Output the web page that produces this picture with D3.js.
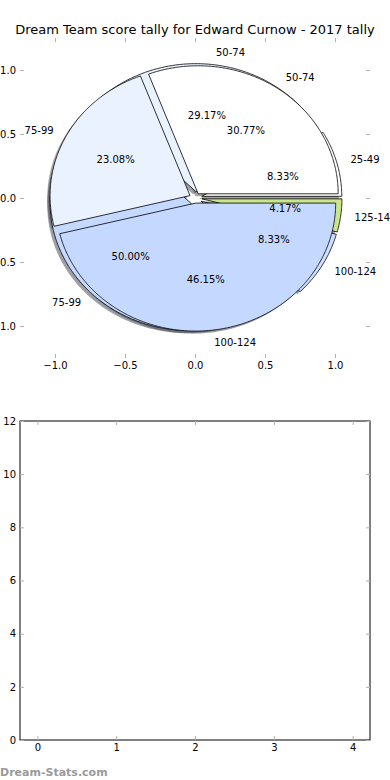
<!DOCTYPE html>
<html>
<head>
<meta charset="utf-8">
<script src="https://cdn.jsdelivr.net/npm/d3@7"></script>
<style>
  body { margin: 0; background: #fff; }
  svg { display: block; font-family: "DejaVu Sans", sans-serif; }
</style>
</head>
<body>
<div id="chart"></div>
<script>
// score bands, two tallies drawn on the same axes
const labelsA = ["50-74", "75-99", "100-124"];
const countsA = [4, 3, 6];
const labelsB = ["25-49", "50-74", "75-99", "100-124", "125-149"];
const countsB = [2, 7, 12, 2, 1];
const palette = ["#ffffff", "#eaf1ff", "#c5d8ff", "#cddfff", "#c9e68c"];

const pieTicks = [-1.0, -0.5, 0.0, 0.5, 1.0];
const barXTicks = [0, 1, 2, 3, 4];
const barYTicks = [0, 2, 4, 6, 8, 10, 12];

const W = 390, H = 780;
const svg = d3.select("#chart").append("svg")
  .attr("width", W)
  .attr("height", H);

// --------- top axes (pie) ---------
const x1 = d3.scaleLinear().domain([-1.25, 1.25]).range([20, 370]);
const y1 = d3.scaleLinear().domain([-1.25, 1.25]).range([358, 38]);

svg.append("text")
  .attr("x", 195)
  .attr("y", 34)
  .attr("text-anchor", "middle")
  .attr("font-size", 13)
  .text("Dream Team score tally for Edward Curnow - 2017 tally");

const fmt1 = d3.format(".1f");
function tickAxes(g, x, y, xt, yt, xf, yf) {
  const [xl, xr] = x.range();
  const [yb, ytp] = y.range();
  g.append("g").attr("transform", `translate(0,${yb})`)
    .call(d3.axisBottom(x).tickValues(xt).tickSizeInner(-4).tickSizeOuter(0).tickPadding(4).tickFormat(xf));
  g.append("g").attr("transform", `translate(0,${ytp})`)
    .call(d3.axisTop(x).tickValues(xt).tickSizeInner(-4).tickSizeOuter(0).tickFormat(""));
  g.append("g").attr("transform", `translate(${xl},0)`)
    .call(d3.axisLeft(y).tickValues(yt).tickSizeInner(-4).tickSizeOuter(0).tickPadding(4).tickFormat(yf));
  g.append("g").attr("transform", `translate(${xr},0)`)
    .call(d3.axisRight(y).tickValues(yt).tickSizeInner(-4).tickSizeOuter(0).tickFormat(""));
  g.selectAll(".domain").remove();
  g.selectAll(".tick line").attr("stroke", "#b0b0b0").attr("stroke-width", 1);
  g.selectAll(".tick text").attr("font-size", 10).attr("fill", "#000")
    .attr("font-family", "DejaVu Sans, sans-serif");
}

const pieAxes = svg.append("g");
tickAxes(pieAxes, x1, y1, pieTicks, pieTicks, fmt1, fmt1);

function layoutPie(counts, labels, explode) {
  const total = d3.sum(counts);
  const arcs = d3.pie().sort(null).startAngle(0).endAngle(2 * Math.PI)(counts);
  return arcs.map((a, i) => {
    const mid = (a.startAngle + a.endAngle) / 2;
    return {
      a0: a.startAngle, a1: a.endAngle, mid,
      cx: explode * Math.cos(mid), cy: explode * Math.sin(mid),
      label: labels[i],
      pct: d3.format(".2f")(counts[i] / total * 100) + "%",
      color: palette[i]
    };
  });
}

function wedgePath(cx, cy, r, a0, a1) {
  const p = d3.path();
  p.moveTo(x1(cx), y1(cy));
  const n = Math.max(2, Math.ceil((a1 - a0) / 0.01));
  d3.range(n + 1).forEach(k => {
    const t = a0 + (a1 - a0) * k / n;
    p.lineTo(x1(cx + r * Math.cos(t)), y1(cy + r * Math.sin(t)));
  });
  p.closePath();
  return p.toString();
}

const pieB = layoutPie(countsB, labelsB, 0.05);
const pieA = layoutPie(countsA, labelsA, 0.04);

// shadows first (they sit below every wedge)
[pieB, pieA].forEach(pie => {
  svg.append("g").selectAll("path")
    .data(pie)
    .enter()
    .append("path")
      .attr("d", d => wedgePath(d.cx - 0.02, d.cy - 0.02, 1, d.a0, d.a1))
      .attr("fill", d => {
        const c = d3.rgb(d.color);
        return d3.rgb(c.r * 0.3, c.g * 0.3, c.b * 0.3);
      })
      .attr("opacity", 0.5);
});

[pieB, pieA].forEach(pie => {
  const g = svg.append("g");
  g.selectAll("path")
    .data(pie)
    .enter()
    .append("path")
      .attr("d", d => wedgePath(d.cx, d.cy, 1, d.a0, d.a1))
      .attr("fill", d => d.color)
      .attr("stroke", "#000")
      .attr("stroke-width", 0.8)
      .attr("stroke-linejoin", "round");
});

[pieB, pieA].forEach(pie => {
  const g = svg.append("g").attr("font-size", 10);
  g.selectAll(".lbl")
    .data(pie)
    .enter()
    .append("text")
      .attr("class", "lbl")
      .attr("x", d => x1(d.cx + 1.1 * Math.cos(d.mid)))
      .attr("y", d => y1(d.cy + 1.1 * Math.sin(d.mid)))
      .attr("dy", "0.35em")
      .attr("text-anchor", d => (d.cx + 1.1 * Math.cos(d.mid)) > 0 ? "start" : "end")
      .text(d => d.label);
  g.selectAll(".pct")
    .data(pie)
    .enter()
    .append("text")
      .attr("class", "pct")
      .attr("x", d => x1(d.cx + 0.6 * Math.cos(d.mid)))
      .attr("y", d => y1(d.cy + 0.6 * Math.sin(d.mid)))
      .attr("dy", "0.35em")
      .attr("text-anchor", "middle")
      .text(d => d.pct);
});

// --------- bottom axes (empty) ---------
const x2 = d3.scaleLinear().domain([-0.22, 4.22]).range([20, 370]);
const y2 = d3.scaleLinear().domain([0, 12]).range([740, 421]);

const barAxes = svg.append("g");
barAxes.append("rect")
  .attr("x", x2(-0.22))
  .attr("y", y2(12))
  .attr("width", x2(4.22) - x2(-0.22))
  .attr("height", y2(0) - y2(12))
  .attr("fill", "none")
  .attr("stroke", "#000")
  .attr("stroke-width", 1);
tickAxes(barAxes, x2, y2, barXTicks, barYTicks, d3.format("d"), d3.format("d"));

svg.append("text")
  .attr("x", 0)
  .attr("y", 776)
  .attr("font-size", 11)
  .attr("font-weight", "bold")
  .attr("fill", "#9a9a9a")
  .text("Dream-Stats.com");
</script>
</body>
</html>
